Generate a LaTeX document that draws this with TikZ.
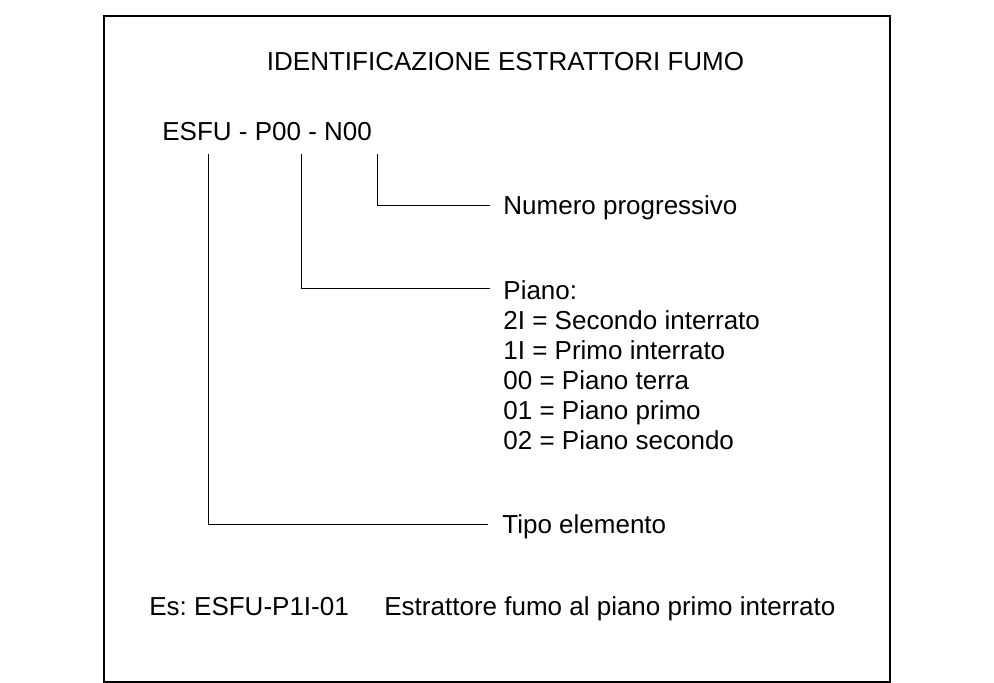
\documentclass[tikz,border=0pt]{standalone}
\usepackage{fontspec}
\setmainfont{Liberation Sans}
\frenchspacing
\begin{document}
\begin{tikzpicture}[x=0.5pt,y=-0.5pt,
  lbl/.style={anchor=base west,inner sep=0pt,font=\fontsize{13}{15}\selectfont,align=left},
  conn/.style={draw=black,line width=0.5pt},
  frame/.style={draw=black,line width=0.65pt}]
\useasboundingbox (0,0) rectangle (994,682);
\draw[frame] (104,16) rectangle (890,682);
\node[lbl,anchor=base] (title) at (505.5,70) {IDENTIFICAZIONE ESTRATTORI FUMO};
\node[lbl] (code) at (162,140) {ESFU - P00 - N00};
\coordinate (esfuTop) at (208,154);
\coordinate (pianoTop) at (301,154);
\coordinate (numTop) at (377,154);
\coordinate (numEnd) at (490,205);
\coordinate (pianoEnd) at (490,288);
\coordinate (tipoEnd) at (488,524);
\node[lbl] (numero) at (503,214) {Numero progressivo};
\node[lbl] (piano) at (503,449) {Piano:\\2I = Secondo interrato\\1I = Primo interrato\\00 = Piano terra\\01 = Piano primo\\02 = Piano secondo};
\node[lbl] (tipo) at (502,533) {Tipo elemento};
\draw[conn] (numTop) |- (numEnd);
\draw[conn] (pianoTop) |- (pianoEnd);
\draw[conn] (esfuTop) |- (tipoEnd);
\node[lbl] (es) at (149,615) {Es: ESFU-P1I-01};
\node[lbl] (esdesc) at (384,615) {Estrattore fumo al piano primo interrato};
\end{tikzpicture}
\end{document}
